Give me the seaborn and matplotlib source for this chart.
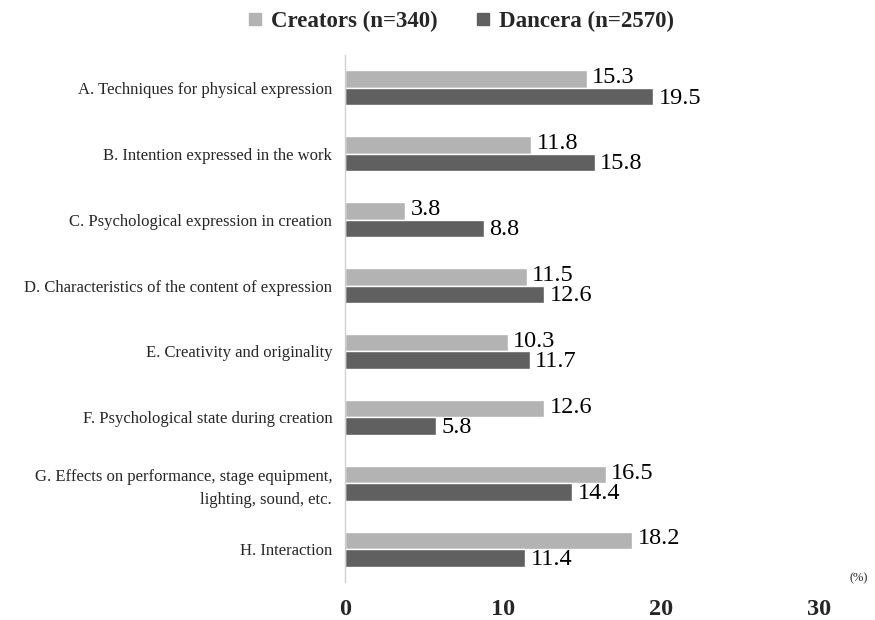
import matplotlib
matplotlib.use("Agg")
import matplotlib.pyplot as plt
import seaborn as sns
import pandas as pd
from matplotlib.lines import Line2D

categories = [
    "A. Techniques for physical expression",
    "B. Intention expressed in the work",
    "C. Psychological expression in creation",
    "D. Characteristics of the content of expression",
    "E. Creativity and originality",
    "F. Psychological state during creation",
    "G. Effects on performance, stage equipment,\nlighting, sound, etc.",
    "H. Interaction",
]
creators = [15.3, 11.8, 3.8, 11.5, 10.3, 12.6, 16.5, 18.2]
dancers = [19.5, 15.8, 8.8, 12.6, 11.7, 5.8, 14.4, 11.4]
series_names = ["Creators (n=340)", "Dancera (n=2570)"]
x_ticks = [0, 10, 20, 30]

colors = ["#b3b3b3", "#606060"]

df = pd.DataFrame({
    "category": categories * 2,
    "value": creators + dancers,
    "group": [series_names[0]] * len(categories) + [series_names[1]] * len(categories),
})

sns.set_style("white")
plt.rcParams["font.family"] = ["Liberation Serif", "DejaVu Serif"]

fig = plt.figure(figsize=(8.75, 6.2), dpi=100)
ax = fig.add_axes([0.394, 0.0613, 0.542, 0.85])

sns.barplot(data=df, y="category", x="value", hue="group", orient="h",
            palette=colors, width=0.53, ax=ax, legend=False,
            saturation=1, errorbar=None)

ax.set_xlim(0, 30)
ax.set_ylim(7.5, -0.5)
ax.set_xticks(x_ticks)
ax.set_xticklabels([str(t) for t in x_ticks], fontsize=17.5, fontweight="bold")
ax.tick_params(axis="x", length=0, pad=12)
ax.tick_params(axis="y", length=0, pad=9, labelsize=12)
for lbl in ax.get_yticklabels():
    lbl.set_linespacing(1.6)
ax.set_xlabel("")
ax.set_ylabel("")
for s in ["top", "right", "bottom"]:
    ax.spines[s].set_visible(False)
ax.spines["left"].set_color("#d0d0d0")
ax.spines["left"].set_linewidth(1.0)

# value labels
for ci, cont in enumerate(ax.containers):
    dy = 1 if ci == 0 else -1
    for patch in cont:
        w = patch.get_width()
        yc = patch.get_y() + patch.get_height() / 2
        ax.annotate(f"{w:.1f}", xy=(w, yc), xytext=(4, dy), textcoords="offset points",
                    ha="left", va="center", fontsize=17.5, color="black")

fig.text(0.992, 0.068, "(%)", fontsize=9, ha="right", va="center")

handles = [Line2D([0], [0], marker="s", linestyle="", markersize=8,
                  markerfacecolor=c, markeredgecolor=c) for c in colors]
fig.legend(handles, series_names, loc="center", bbox_to_anchor=(0.518, 0.965),
           ncol=2, frameon=False, handletextpad=-0.3, columnspacing=1.0,
           prop={"size": 16.5, "weight": "bold"})

fig.savefig("out.png", dpi=100)
